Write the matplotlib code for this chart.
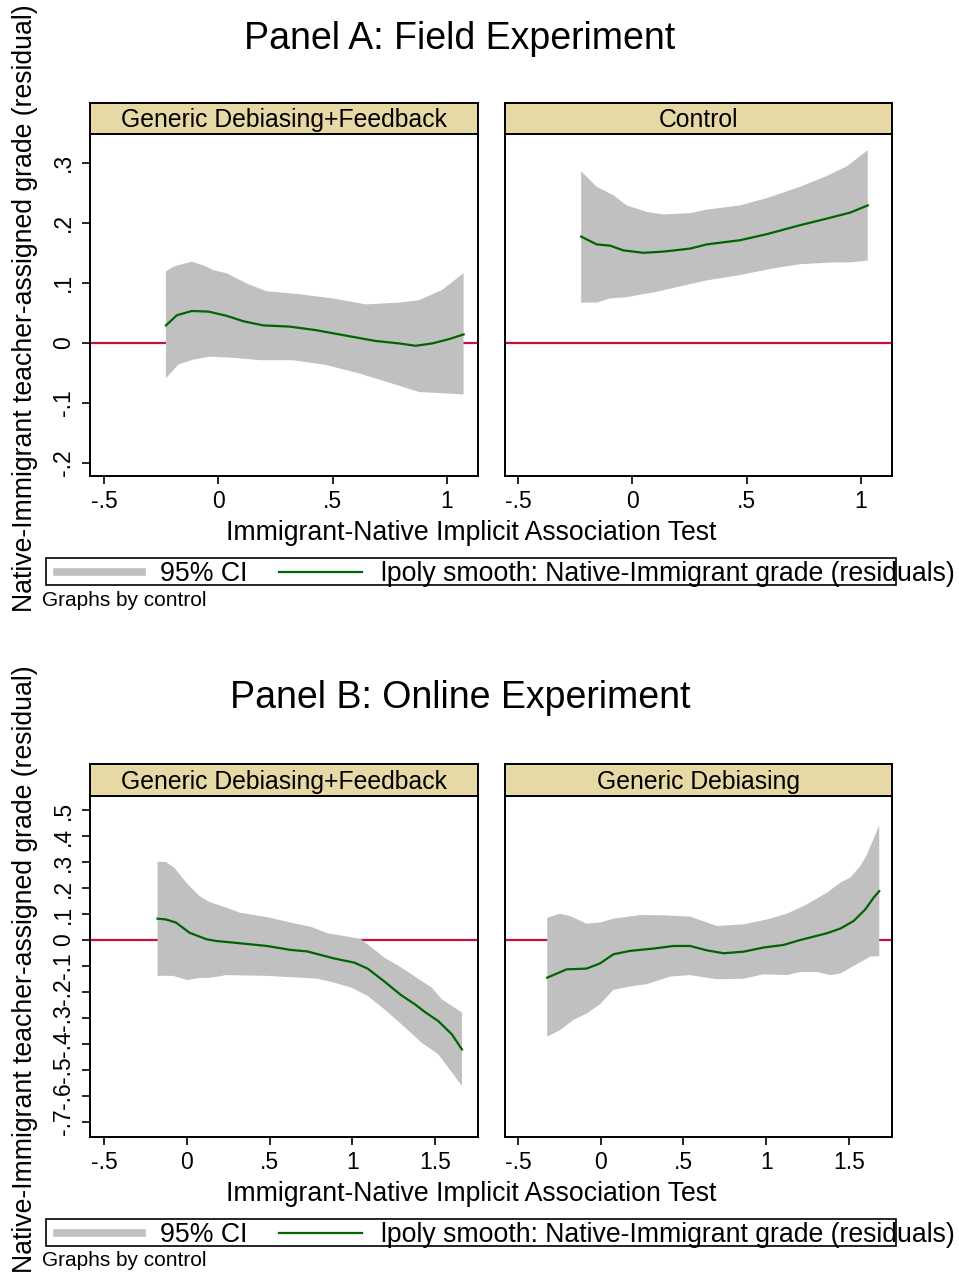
import numpy as np
import matplotlib
matplotlib.use("Agg")
import matplotlib.pyplot as plt
from matplotlib.lines import Line2D
from matplotlib.patches import Rectangle

plt.rcParams['font.family'] = ['Liberation Sans', 'DejaVu Sans']

W, H = 959, 1273

# ---- Panel A: field experiment (lpoly smooth + 95% CI) ----
a_feed_x = [-0.229, -0.181, -0.116, -0.043, 0.036, 0.109, 0.196, 0.312, 0.428,
            0.572, 0.688, 0.790, 0.862, 0.935, 1.007, 1.072]
a_feed_y = [0.029, 0.046, 0.053, 0.052, 0.045, 0.036, 0.029, 0.027, 0.021,
            0.011, 0.003, -0.001, -0.005, -0.001, 0.006, 0.014]
a_feed_hi_x = [-0.229, -0.196, -0.138, -0.116, -0.065, -0.022, 0.036, 0.123, 0.210,
               0.355, 0.500, 0.645, 0.790, 0.877, 0.978, 1.072]
a_feed_hi = [0.119, 0.127, 0.133, 0.135, 0.129, 0.121, 0.116, 0.099, 0.086,
             0.081, 0.074, 0.064, 0.067, 0.071, 0.088, 0.116]
a_feed_lo_x = [-0.229, -0.174, -0.109, -0.036, 0.065, 0.181, 0.326, 0.471, 0.616,
               0.761, 0.877, 0.978, 1.072]
a_feed_lo = [-0.059, -0.036, -0.028, -0.023, -0.025, -0.029, -0.029, -0.037, -0.051,
             -0.068, -0.082, -0.084, -0.086]

a_ctrl_x = [-0.224, -0.156, -0.098, -0.039, 0.048, 0.136, 0.252, 0.325, 0.471,
            0.587, 0.733, 0.850, 0.952, 1.029]
a_ctrl_y = [0.177, 0.164, 0.162, 0.154, 0.150, 0.152, 0.157, 0.164, 0.171,
            0.181, 0.196, 0.207, 0.217, 0.229]
a_ctrl_hi_x = [-0.224, -0.156, -0.083, -0.025, 0.063, 0.136, 0.252, 0.325, 0.471,
               0.587, 0.733, 0.850, 0.937, 1.029]
a_ctrl_hi = [0.286, 0.260, 0.246, 0.229, 0.218, 0.214, 0.216, 0.222, 0.229,
             0.241, 0.260, 0.278, 0.294, 0.321]
a_ctrl_lo_x = [-0.224, -0.156, -0.098, -0.025, 0.106, 0.208, 0.325, 0.471, 0.617,
               0.733, 0.879, 0.952, 1.029]
a_ctrl_lo = [0.067, 0.067, 0.074, 0.076, 0.085, 0.094, 0.104, 0.113, 0.124,
             0.131, 0.134, 0.134, 0.137]

# ---- Panel B: online experiment ----
b_feed_x = [-0.177, -0.126, -0.065, 0.016, 0.118, 0.179, 0.280, 0.484, 0.626,
            0.728, 0.890, 1.012, 1.093, 1.195, 1.297, 1.378, 1.439, 1.520,
            1.602, 1.663]
b_feed_y = [0.082, 0.079, 0.067, 0.028, 0.003, -0.004, -0.010, -0.023, -0.038,
            -0.044, -0.071, -0.087, -0.110, -0.160, -0.213, -0.247, -0.277, -0.312,
            -0.363, -0.421]
b_feed_hi_x = [-0.177, -0.126, -0.075, -0.004, 0.077, 0.138, 0.240, 0.321, 0.484,
               0.648, 0.749, 0.850, 0.972, 1.053, 1.093, 1.195, 1.297, 1.398,
               1.480, 1.541, 1.663]
b_feed_hi = [0.301, 0.300, 0.278, 0.221, 0.169, 0.146, 0.124, 0.105, 0.088,
             0.064, 0.051, 0.026, 0.013, 0.003, -0.017, -0.068, -0.106, -0.149,
             -0.183, -0.228, -0.279]
b_feed_lo_x = [-0.177, -0.085, 0.006, 0.077, 0.138, 0.240, 0.484, 0.687, 0.789,
               0.890, 0.992, 1.093, 1.195, 1.297, 1.419, 1.520, 1.581, 1.663]
b_feed_lo = [-0.138, -0.138, -0.154, -0.146, -0.146, -0.135, -0.138, -0.145, -0.149,
             -0.164, -0.183, -0.215, -0.267, -0.324, -0.395, -0.440, -0.491, -0.562]

b_gen_x = [-0.323, -0.206, -0.085, -0.004, 0.077, 0.177, 0.319, 0.440, 0.540,
           0.643, 0.742, 0.863, 0.984, 1.105, 1.206, 1.367, 1.448, 1.528,
           1.599, 1.649, 1.683]
b_gen_y = [-0.145, -0.113, -0.110, -0.090, -0.055, -0.042, -0.033, -0.023, -0.023,
           -0.040, -0.051, -0.045, -0.029, -0.019, 0.000, 0.026, 0.044, 0.073,
           0.118, 0.163, 0.188]
b_gen_hi_x = [-0.323, -0.246, -0.185, -0.085, -0.004, 0.077, 0.238, 0.379, 0.540,
              0.702, 0.863, 1.004, 1.125, 1.246, 1.367, 1.448, 1.508, 1.569,
              1.609, 1.683]
b_gen_hi = [0.086, 0.101, 0.092, 0.063, 0.067, 0.082, 0.096, 0.095, 0.090,
            0.054, 0.060, 0.079, 0.101, 0.137, 0.182, 0.221, 0.240, 0.285,
            0.329, 0.441]
b_gen_lo_x = [-0.323, -0.246, -0.165, -0.085, -0.004, 0.077, 0.177, 0.278, 0.419,
              0.540, 0.702, 0.863, 0.984, 1.125, 1.206, 1.306, 1.387, 1.448,
              1.528, 1.629, 1.683]
b_gen_lo = [-0.372, -0.347, -0.308, -0.283, -0.247, -0.192, -0.179, -0.170, -0.141,
            -0.135, -0.151, -0.149, -0.132, -0.135, -0.123, -0.123, -0.135, -0.129,
            -0.100, -0.064, -0.062]

a_yticks = [-0.2, -0.1, 0, 0.1, 0.2, 0.3]
a_ytick_labels = ['-.2', '-.1', '0', '.1', '.2', '.3']
a_xticks = [-0.5, 0, 0.5, 1]
a_xtick_labels = ['-.5', '0', '.5', '1']
b_yticks = [-0.7, -0.6, -0.5, -0.4, -0.3, -0.2, -0.1, 0, 0.1, 0.2, 0.3, 0.4, 0.5]
b_ytick_labels = ['-.7', '-.6', '-.5', '-.4', '-.3', '-.2', '-.1', '0',
                  '.1', '.2', '.3', '.4', '.5']
b_xticks = [-0.5, 0, 0.5, 1, 1.5]
b_xtick_labels = ['-.5', '0', '.5', '1', '1.5']

CI_GREY = '#C0C0C0'
SMOOTH_GREEN = '#006400'
ZERO_RED = '#C8103C'
STRIP_TAN = '#E6D9A6'
FS_TICK = 16.5
FS_LABEL = 19.2
FS_STRIP = 17.8
FS_TITLE = 27

fig = plt.figure(figsize=(W / 100, H / 100), dpi=100)


def fx(px):
    return px / W


def fy(py):
    return 1 - py / H


def make_axes(x0, x1, y0, y1, strip_top):
    ax = fig.add_axes([fx(x0), fy(y1), fx(x1 - x0), (y1 - y0) / H])
    st = fig.add_axes([fx(x0), fy(y0), fx(x1 - x0), (y0 - strip_top) / H])
    st.set_facecolor(STRIP_TAN)
    st.set_xticks([])
    st.set_yticks([])
    for s in st.spines.values():
        s.set_linewidth(1.4)
    return ax, st


def draw_panel(ax, st, title, x, y, hx, hi, lx, lo, xlim, ylim, xticks, xlabels,
               yticks=None, ylabels=None):
    st.text(0.5, 0.45, title, ha='center', va='center', fontsize=FS_STRIP,
            transform=st.transAxes)
    ax.axhline(0, color=ZERO_RED, lw=1.6, zorder=1)
    px = list(hx) + list(lx)[::-1]
    py = list(hi) + list(lo)[::-1]
    ax.fill(px, py, color=CI_GREY, lw=0, zorder=2)
    ax.plot(x, y, color=SMOOTH_GREEN, lw=1.6, zorder=3)
    ax.set_xlim(*xlim)
    ax.set_ylim(*ylim)
    ax.set_xticks(xticks)
    ax.set_xticklabels(xlabels, fontsize=FS_TICK)
    ax.tick_params(axis='x', length=6, width=1.2, pad=4)
    if yticks is not None:
        ax.set_yticks(yticks)
        ax.set_yticklabels(ylabels, fontsize=FS_TICK, rotation=90, va='center')
        ax.tick_params(axis='y', length=6, width=1.2, pad=5)
    else:
        ax.set_yticks([])
    for s in ax.spines.values():
        s.set_linewidth(1.4)


def legend_row(y_mid, y_note):
    fig.add_artist(Rectangle((fx(46), fy(y_mid + 13.5)), fx(850), 27 / H,
                             fill=False, lw=1.2, ec='black',
                             transform=fig.transFigure))
    fig.add_artist(Line2D([fx(57), fx(142)], [fy(y_mid), fy(y_mid)],
                          color=CI_GREY, lw=5.5, transform=fig.transFigure))
    fig.text(fx(160), fy(y_mid + 2.5), '95% CI', fontsize=FS_LABEL, va='center')
    fig.add_artist(Line2D([fx(279), fx(362)], [fy(y_mid), fy(y_mid)],
                          color=SMOOTH_GREEN, lw=1.6, transform=fig.transFigure))
    fig.text(fx(381), fy(y_mid + 2.5),
             'lpoly smooth: Native-Immigrant grade (residuals)',
             fontsize=FS_LABEL, va='center')
    fig.text(fx(42), fy(y_note + 1), 'Graphs by control', fontsize=15, va='center')


YLABEL = 'Native-Immigrant teacher-assigned grade (residual)'

# Panel A
ax1, st1 = make_axes(90, 478, 134, 476, 103)
draw_panel(ax1, st1, 'Generic Debiasing+Feedback', a_feed_x, a_feed_y,
           a_feed_hi_x, a_feed_hi, a_feed_lo_x, a_feed_lo,
           (-0.561, 1.135), (-0.222, 0.348), a_xticks, a_xtick_labels,
           a_yticks, a_ytick_labels)
ax2, st2 = make_axes(505, 892, 134, 476, 103)
draw_panel(ax2, st2, 'Control', a_ctrl_x, a_ctrl_y,
           a_ctrl_hi_x, a_ctrl_hi, a_ctrl_lo_x, a_ctrl_lo,
           (-0.557, 1.135), (-0.222, 0.348), a_xticks, a_xtick_labels)
fig.text(fx(460), fy(39), 'Panel A: Field Experiment', fontsize=FS_TITLE,
         ha='center', va='center')
fig.text(fx(471), fy(533), 'Immigrant-Native Implicit Association Test',
         fontsize=FS_LABEL, ha='center', va='center')
fig.text(fx(25), fy(308), YLABEL, fontsize=FS_LABEL, rotation=90,
         ha='center', va='center')
legend_row(571.5, 599)

# Panel B
ax3, st3 = make_axes(90, 478, 796, 1137, 764)
draw_panel(ax3, st3, 'Generic Debiasing+Feedback', b_feed_x, b_feed_y,
           b_feed_hi_x, b_feed_hi, b_feed_lo_x, b_feed_lo,
           (-0.585, 1.76), (-0.758, 0.554), b_xticks, b_xtick_labels,
           b_yticks, b_ytick_labels)
ax4, st4 = make_axes(505, 892, 796, 1137, 764)
draw_panel(ax4, st4, 'Generic Debiasing', b_gen_x, b_gen_y,
           b_gen_hi_x, b_gen_hi, b_gen_lo_x, b_gen_lo,
           (-0.578, 1.76), (-0.758, 0.554), b_xticks, b_xtick_labels)
fig.text(fx(460), fy(698), 'Panel B: Online Experiment', fontsize=FS_TITLE,
         ha='center', va='center')
fig.text(fx(471), fy(1194), 'Immigrant-Native Implicit Association Test',
         fontsize=FS_LABEL, ha='center', va='center')
fig.text(fx(25), fy(969), YLABEL, fontsize=FS_LABEL, rotation=90,
         ha='center', va='center')
legend_row(1232.5, 1259)

fig.savefig('out.png', dpi=100, facecolor='white')
